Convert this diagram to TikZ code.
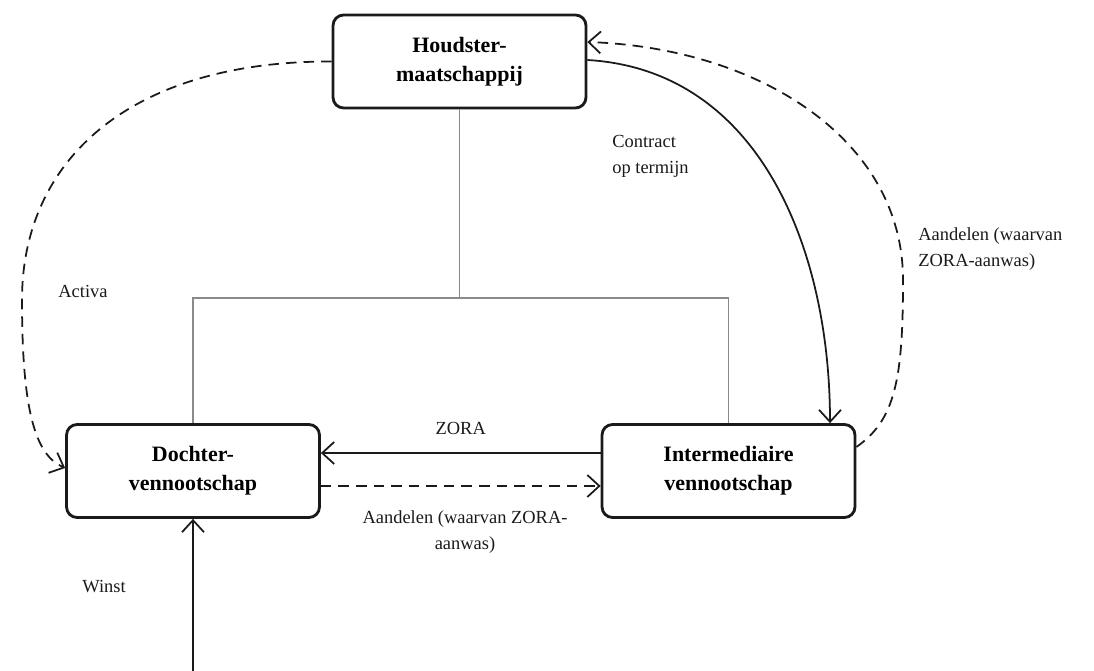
\documentclass[tikz,border=0pt]{standalone}
\usepackage{fontspec}
\setmainfont{Liberation Serif}
\usetikzlibrary{arrows.meta,positioning}
\definecolor{ink}{HTML}{1A1A1A}
\definecolor{tree}{HTML}{8A8A8A}
\tikzset{
  entity/.style={draw=ink,line width=1.6pt,rounded corners=6pt,fill=white,align=center,
    minimum width=5.06cm,minimum height=1.86cm,font=\fontsize{12.5}{16.5}\selectfont\bfseries},
  flow/.style={-{Straight Barb[length=2.4mm,width=4.4mm]},draw=ink,line width=1pt},
  claim/.style={flow,dashed,dash pattern=on 6pt off 4pt},
  link/.style={draw=tree,line width=0.8pt},
  note/.style={font=\fontsize{10.5}{14.8}\selectfont,text=ink,inner sep=0pt}
}
\begin{document}
\begin{tikzpicture}[x=0.02cm,y=-0.02cm]
  \useasboundingbox (0,0) rectangle (1094,671);
  % entities
  \node[entity] (houd) at (459.5,61.5) {Houdster-\\maatschappij};
  \node[entity] (dochter) at (193,471) {Dochter-\\vennootschap};
  \node[entity] (inter) at (728.5,471) {Intermediaire\\vennootschap};
  \coordinate (bron) at (193,671);
  % ownership tree
  \coordinate (split) at (459.5,298);
  \draw[link] (houd.south) -- (split);
  \draw[link] (dochter.north) |- (split) -| (inter.north);
  % flows between entities
  \draw[flow] (inter.west |- 0,453) -- node[note,above=10pt]{ZORA} (dochter.east |- 0,453);
  \draw[claim] (dochter.east |- 0,486) -- (inter.west |- 0,486);
  \node[note,align=center] (aandelen) at (465,532) {Aandelen (waarvan ZORA-\\aanwas)};
  \draw[flow] (bron) -- (dochter.south);
  \node[note] (winst) at (104,587) {Winst};
  % curved flows
  \draw[claim] (houd.west) .. controls (130,61) and (22,160) .. (22,300)
    .. controls (22,410) and (35,455) .. (dochter.west |- 0,468);
  \node[note] (activa) at (83,291) {Activa};
  \draw[flow] (houd.east |- 0,60) .. controls (760,70) and (830,250) .. (inter.north -| 830,0);
  \node[note,align=left,anchor=west] (contract) at (612,156) {Contract\\op termijn};
  \draw[claim] (inter.east |- 0,447) .. controls (895,420) and (903,380) .. (903,280)
    .. controls (903,140) and (760,48) .. (houd.east |- 0,42);
  \node[note,align=left,anchor=west] (aanwas) at (918,249) {Aandelen (waarvan\\ZORA-aanwas)};
\end{tikzpicture}
\end{document}
